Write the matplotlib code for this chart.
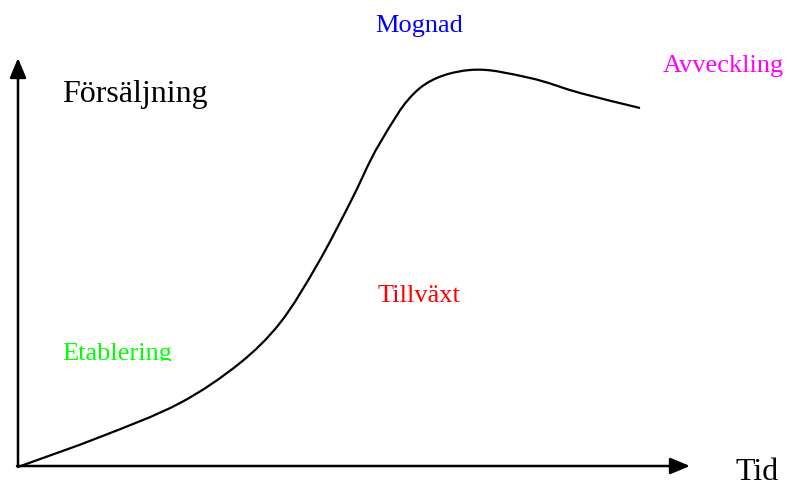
import matplotlib
matplotlib.use("Agg")
import matplotlib.pyplot as plt
import numpy as np
from matplotlib.patches import Rectangle, PathPatch
from matplotlib.path import Path

# curve, in pixel coordinates (y down)
curve_x = [18, 100, 180, 240, 280, 317, 350, 380, 420, 470, 530, 580, 640]
curve_y = [467, 437, 403, 363, 323, 265, 203, 143, 88, 70, 78, 93, 108]

phase_labels = ["Mognad", "Avveckling", "Tillväxt", "Etablering"]
phase_colors = ["#0000ff", "#ff00ff", "#ff0000", "#00ff00"]
phase_pos = [(375, 32), (663, 72), (378, 302), (62, 360)]

plt.rcParams["font.family"] = ["Liberation Serif", "DejaVu Serif"]

fig = plt.figure(figsize=(7.89, 4.86), dpi=100)
ax = fig.add_axes([0, 0, 1, 1])
ax.set_xlim(0, 789)
ax.set_ylim(486, 0)
ax.axis("off")

# axes arrows
arrow = dict(arrowstyle="-|>,head_length=1.2,head_width=0.5", color="black",
             lw=1.8, shrinkA=0, shrinkB=0)
ax.annotate("", xy=(18, 58), xytext=(18, 467), arrowprops=arrow)
ax.annotate("", xy=(690, 466), xytext=(17, 466), arrowprops=arrow)

# smooth curve through the traced points (cubic Beziers, tangent from neighbours)
pts = np.column_stack([curve_x, curve_y]).astype(float)
n = len(pts)
tang = np.empty_like(pts)
for i in range(n):
    d = pts[min(i + 1, n - 1)] - pts[max(i - 1, 0)]
    tang[i] = d / np.hypot(*d)
verts = [tuple(pts[0])]
codes = [Path.MOVETO]
for i in range(n - 1):
    L = np.hypot(*(pts[i + 1] - pts[i])) / 3
    verts += [tuple(pts[i] + tang[i] * L), tuple(pts[i + 1] - tang[i + 1] * L),
              tuple(pts[i + 1])]
    codes += [Path.CURVE4] * 3
ax.add_patch(PathPatch(Path(verts, codes), facecolor="none",
                       edgecolor="black", lw=1.6))

ax.text(62, 102, "Försäljning", fontsize=23, ha="left", va="baseline")
ax.text(735, 480, "Tid", fontsize=23, ha="left", va="baseline")

clip = Rectangle((0, 0), 789, 361, transform=ax.transData)
for lab, col, (x, y) in zip(phase_labels, phase_colors, phase_pos):
    t = ax.text(x, y, lab, fontsize=19, color=col, ha="left", va="baseline")
    if lab == "Etablering":
        t.set_clip_on(True)
        t.set_clip_path(clip)

fig.savefig("out.png", dpi=100)
